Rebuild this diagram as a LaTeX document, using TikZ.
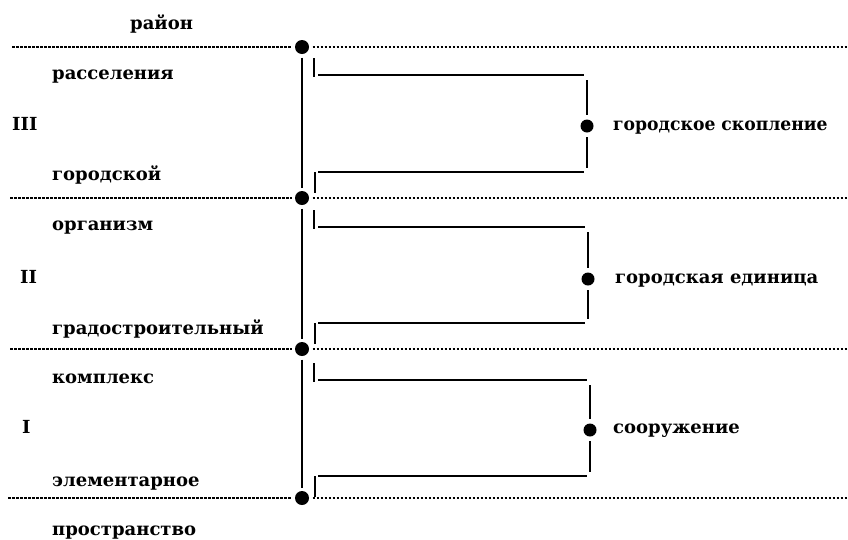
\documentclass[tikz,border=0pt]{standalone}
\usepackage{fontspec}
\usepackage{graphicx}
\setmainfont{DejaVu Serif}
\begin{document}
\begin{tikzpicture}[x=1pt,y=-1pt,
  lbl/.style={font=\bfseries\fontsize{18}{20}\selectfont, anchor=base west, inner sep=0pt},
  bigdot/.style={circle, fill=black, inner sep=0pt, minimum size=14pt, outer sep=3.5pt},
  smdot/.style={circle, fill=black, inner sep=0pt, minimum size=13pt, outer sep=4.5pt},
  dotline/.style={line width=1.7pt, dash pattern=on 2.6pt off 1.4pt},
  rule/.style={line width=1.5pt}]
\useasboundingbox (0,0) rectangle (848,539);

% main dots on the level boundaries
\node[bigdot] (d1) at (302,47) {};
\node[bigdot] (d2) at (302,198) {};
\node[bigdot] (d3) at (302,349) {};
\node[bigdot] (d4) at (302,498) {};

% dotted boundary lines
\coordinate (l1) at (12,47);  \coordinate (r1) at (848,47);
\coordinate (l2) at (10,198); \coordinate (r2) at (848,198);
\coordinate (l3) at (10,349); \coordinate (r3) at (848,349);
\coordinate (l4) at (8,498);  \coordinate (r4) at (848,498);
\foreach \i in {1,2,3,4}{
  \draw[dotline] (l\i) -- (d\i);
  \draw[dotline] (d\i) -- (r\i);
}

% main vertical axis
\draw[rule] (d1) -- (d2);
\draw[rule] (d2) -- (d3);
\draw[rule] (d3) -- (d4);

% brackets
\foreach \n/\t/\b/\rx/\dy in {3/75/172/587/126, 2/227/323/588/279, 1/380/476/590/430}{
  \node[smdot] (b\n) at (\rx,\dy) {};
  \coordinate (bt\n) at (\rx,\t+5);
  \coordinate (bb\n) at (\rx,\b-4);
  \draw[rule] (bt\n) -- (b\n);
  \draw[rule] (b\n) -- (bb\n);
  \coordinate (hta\n) at (318,\t);  \coordinate (htb\n) at (\rx-3,\t);
  \coordinate (hba\n) at (318,\b);  \coordinate (hbb\n) at (\rx-3,\b);
  \draw[rule] (hta\n) -- (htb\n);
  \draw[rule] (hba\n) -- (hbb\n);
  \coordinate (tka\n) at (314,\t-17); \coordinate (tkb\n) at (314,\t+2);
  \coordinate (kba\n) at (315,\b);    \coordinate (kbb\n) at (315,\b+21);
  \draw[rule] (tka\n) -- (tkb\n);
  \draw[rule] (kba\n) -- (kbb\n);
}

% labels
\node[lbl] (t1) at (130,29) {район};
\node[lbl] (t2) at (52,79) {расселения};
\node[lbl] (t3) at (12,130) {III};
\node[lbl] (t4) at (52,180) {городской};
\node[lbl] (t5) at (52,230) {организм};
\node[lbl] (t6) at (20,283) {II};
\node[lbl] (t7) at (52,334) {градостроительный};
\node[lbl] (t8) at (52,383) {комплекс};
\node[lbl] (t9) at (22,433) {I};
\node[lbl] (t10) at (52,486) {элементарное};
\node[lbl] (t11) at (52,535) {пространство};
\node[lbl] (t12) at (613,130) {\scalebox{0.955}[1]{городское скопление}};
\node[lbl] (t13) at (615,283) {городская единица};
\node[lbl] (t14) at (613,433) {сооружение};
\end{tikzpicture}
\end{document}
